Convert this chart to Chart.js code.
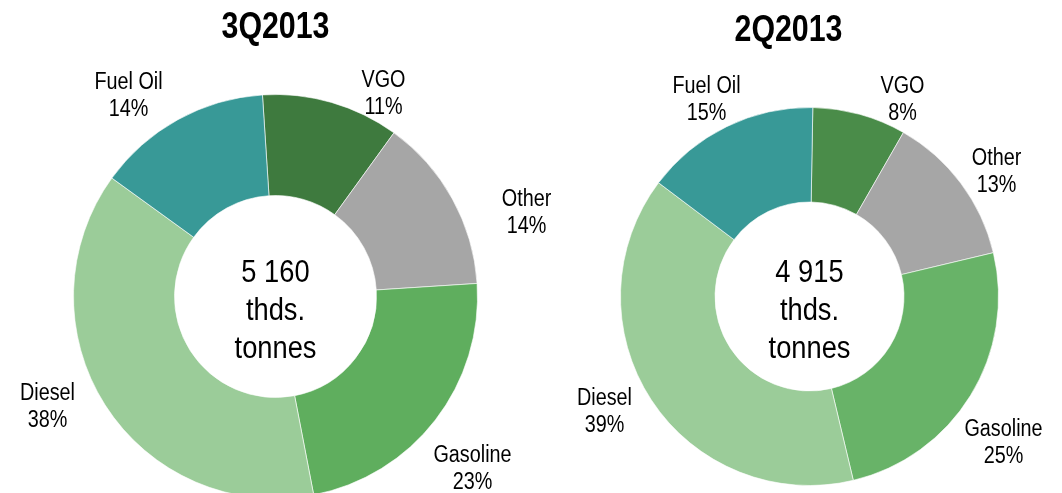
<!DOCTYPE html>
<html lang="en">
  <head>
    <meta charset="utf-8" />
    <title>Refinery output structure</title>
    <style>
      body { margin: 0; background: #fff; overflow: hidden; width: 1062px; height: 493px; position: relative; }
      canvas { position: absolute; top: 0; left: 0; }
    </style>
  </head>
  <body>
    <canvas id="chart3Q" width="1062" height="520"></canvas>
    <canvas id="chart2Q" width="1062" height="520"></canvas>

    <script src="https://cdn.jsdelivr.net/npm/chart.js"></script>
    <script>
      // data
      const categories = ['VGO', 'Other', 'Gasoline', 'Diesel', 'Fuel Oil'];
      const shares3Q = [11, 14, 23, 38, 14];
      const shares2Q = [8, 13, 25, 39, 15];
      const periods = ['3Q2013', '2Q2013'];
      const totals = ['5 160', '4 915'];
      const unitLines = ['thds.', 'tonnes'];

      // Arial Narrow look: Liberation Sans squeezed horizontally
      const FONT = "'Liberation Sans', Arial, sans-serif";

      function narrowText(ctx, text, x, y, squeeze) {
        ctx.save();
        ctx.translate(x, y);
        ctx.scale(squeeze, 1);
        ctx.fillText(text, 0, 0);
        ctx.restore();
      }

      // draws title, centre total and slice labels
      const ringText = {
        id: 'ringText',
        afterDraw(chart, args, opts) {
          const ctx = chart.ctx;
          const arc = chart.getDatasetMeta(0).data[0];
          const cx = arc.x, cy = arc.y;
          ctx.save();
          ctx.fillStyle = '#000';
          ctx.textAlign = 'center';
          ctx.textBaseline = 'middle';

          // title
          ctx.font = 'bold 37px ' + FONT;
          narrowText(ctx, opts.title, cx + opts.titleOffset[0], cy + opts.titleOffset[1], 0.82);

          // centre text
          ctx.font = '31px ' + FONT;
          const centre = [opts.total].concat(unitLines);
          centre.forEach((t, i) => {
            narrowText(ctx, t, cx, cy - 23 + i * 38, 0.88);
          });

          // slice labels
          ctx.font = '23px ' + FONT;
          const values = chart.data.datasets[0].data;
          chart.data.labels.forEach((lab, i) => {
            const [dx, dy] = opts.labelOffsets[i];
            narrowText(ctx, lab, cx + dx, cy + dy - 13, 0.86);
            narrowText(ctx, values[i] + '%', cx + dx, cy + dy + 14, 0.86);
          });
          ctx.restore();
        }
      };

      function makeChart(id, values, colors, rotation, padding, textOpts) {
        return new Chart(document.getElementById(id), {
          type: 'doughnut',
          data: {
            labels: categories,
            datasets: [{
              data: values,
              backgroundColor: colors,
              borderColor: 'rgba(255,255,255,0.6)',
              borderWidth: 1,
              hoverBorderWidth: 1,
              hoverOffset: 0
            }]
          },
          options: {
            responsive: false,
            animation: false,
            events: [],
            cutout: '50%',
            rotation: rotation,
            layout: { padding: padding },
            plugins: {
              legend: { display: false },
              tooltip: { enabled: false },
              ringText: textOpts
            }
          },
          plugins: [ringText]
        });
      }

      makeChart('chart3Q', shares3Q,
        ['#3e7a3e', '#a6a6a6', '#5fae5e', '#9bcc99', '#389997'],
        -3.7,
        { top: 94, left: 73, right: 584, bottom: 21 },
        {
          title: periods[0],
          total: totals[0],
          titleOffset: [0, -269],
          labelOffsets: [[108, -203], [251, -84], [197, 172], [-228, 110], [-147, -201]]
        });

      makeChart('chart2Q', shares2Q,
        ['#4a8c49', '#a6a6a6', '#68b368', '#9bcc99', '#389997'],
        1,
        { top: 107, left: 620, right: 63, bottom: 34 },
        {
          title: periods[1],
          total: totals[1],
          titleOffset: [-21, -266],
          labelOffsets: [[93, -197], [187, -125], [194, 146], [-205, 115], [-103, -197]]
        });
    </script>
  </body>
</html>
